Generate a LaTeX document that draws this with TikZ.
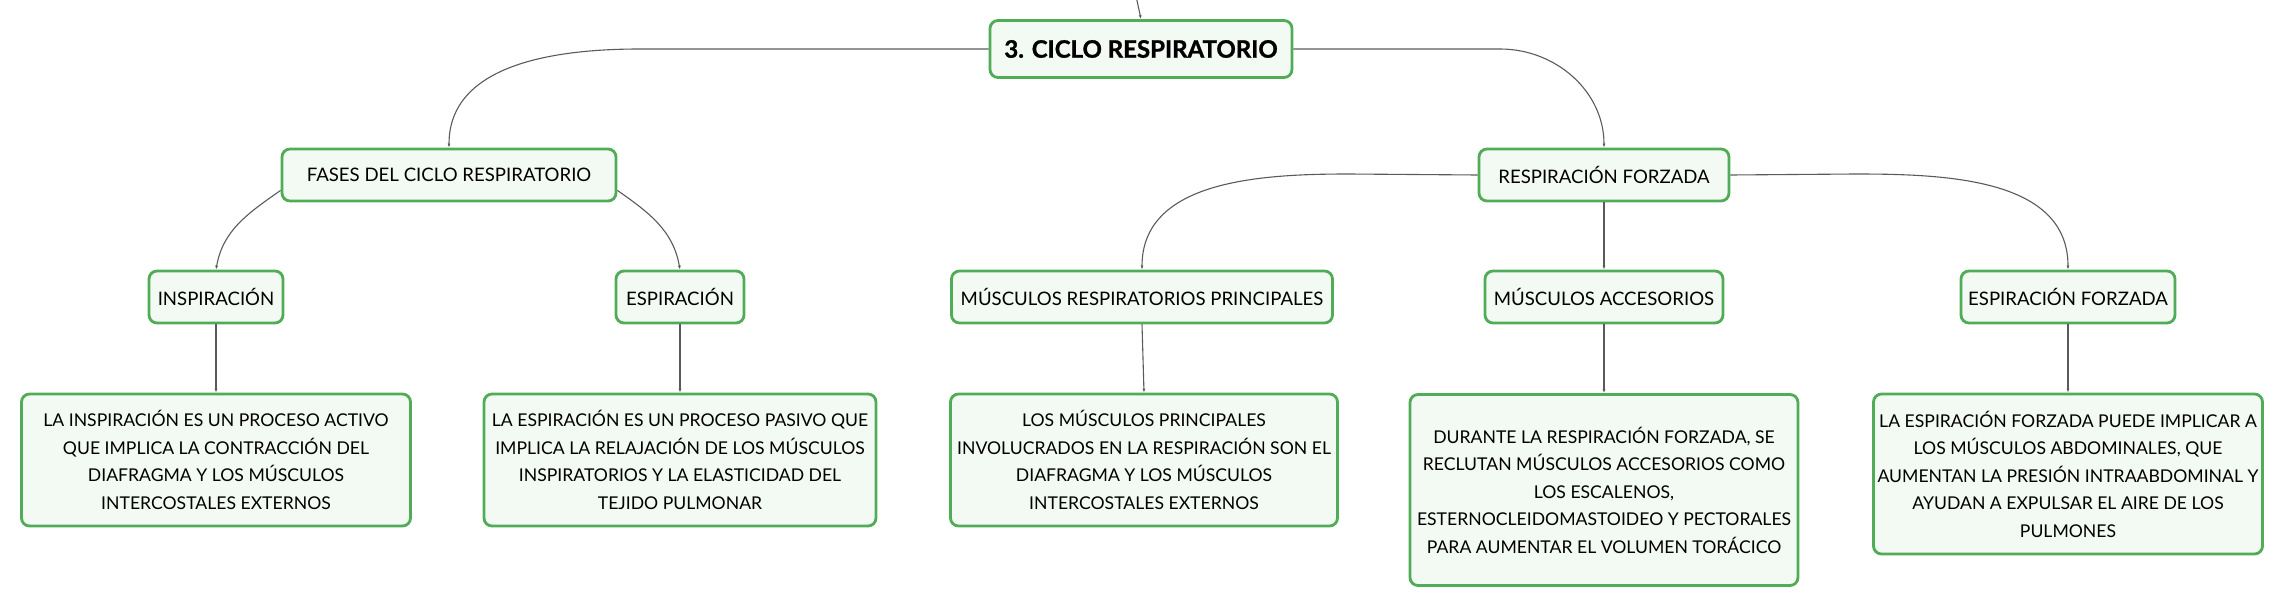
\documentclass[tikz,border=0pt]{standalone}
\usepackage{fontspec}
\setmainfont{Lato}
\newfontfamily\negra{Lato}[BoldFeatures={FakeBold=1.2}]
\usetikzlibrary{arrows.meta}
\definecolor{verde}{RGB}{80,172,86}
\definecolor{fondo}{RGB}{243,249,243}
\definecolor{linea}{RGB}{90,90,90}
\tikzset{
  caja/.style={draw=verde, fill=fondo, line width=2.8pt, rounded corners=8pt, align=center, inner sep=0pt},
  titulo/.style={caja, font=\fontsize{24}{28}\selectfont\negra\bfseries},
  rama/.style={caja, font=\fontsize{18.6}{22}\selectfont, minimum height=52},
  hoja/.style={caja, font=\fontsize{17.6}{27.5}\selectfont},
  enlace/.style={draw=linea, line width=1.1pt, -{Latex[length=4pt,width=3pt]}}
}
\begin{document}
\begin{tikzpicture}[x=1pt, y=-1pt]
    \useasboundingbox (0,0) rectangle (2284,605);
    % raíz
    \node[titulo, minimum width=302, minimum height=57] (raiz) at (1141,49) {3. CICLO RESPIRATORIO};
    \coordinate (arriba) at (1136,-4);
    \draw[enlace] (arriba) -- (raiz.north);
    % ramas
    \node[rama, minimum width=334] (fases) at (449,175) {FASES DEL CICLO RESPIRATORIO};
    \node[rama, minimum width=250] (forz) at (1604,175) {RESPIRACIÓN FORZADA};
    \draw[enlace] (raiz.west) -- (640,49) to[out=180,in=90] (fases.north);
    \draw[enlace] (raiz.east) -- (1500,49) to[out=0,in=90] (forz.north);
    % fases del ciclo
    \node[rama, minimum width=134] (insp) at (216,297) {INSPIRACIÓN};
    \node[rama, minimum width=128] (esp) at (680,297) {ESPIRACIÓN};
    \draw[enlace] (fases.south west) ++(0,-12) coordinate (f1) to[out=215,in=80] (insp.north);
    \draw[enlace] (fases.south east) ++(0,-12) coordinate (f2) to[out=-35,in=100] (esp.north);
    % respiración forzada
    \node[rama, minimum width=381] (princ) at (1142,297) {MÚSCULOS RESPIRATORIOS PRINCIPALES};
    \node[rama, minimum width=238] (acces) at (1604,297) {MÚSCULOS ACCESORIOS};
    \node[rama, minimum width=214] (espf) at (2068,297) {ESPIRACIÓN FORZADA};
    \draw[enlace] (forz.west) -- (1349,174) to[out=180,in=90] (princ.north);
    \draw[enlace] (forz.south) -- (acces.north);
    \draw[enlace] (forz.east) -- (1855,174) to[out=0,in=90] (espf.north);
    % textos
    \node[hoja, minimum width=389, minimum height=132] (t1) at (216,460)
      {LA INSPIRACIÓN ES UN PROCESO ACTIVO\\QUE IMPLICA LA CONTRACCIÓN DEL\\DIAFRAGMA Y LOS MÚSCULOS\\INTERCOSTALES EXTERNOS};
    \node[hoja, minimum width=392, minimum height=132] (t2) at (680,460)
      {LA ESPIRACIÓN ES UN PROCESO PASIVO QUE\\IMPLICA LA RELAJACIÓN DE LOS MÚSCULOS\\INSPIRATORIOS Y LA ELASTICIDAD DEL\\TEJIDO PULMONAR};
    \node[hoja, minimum width=387, minimum height=132] (t3) at (1144,460)
      {LOS MÚSCULOS PRINCIPALES\\INVOLUCRADOS EN LA RESPIRACIÓN SON EL\\DIAFRAGMA Y LOS MÚSCULOS\\INTERCOSTALES EXTERNOS};
    \node[hoja, minimum width=388, minimum height=191] (t4) at (1604,490)
      {DURANTE LA RESPIRACIÓN FORZADA, SE\\RECLUTAN MÚSCULOS ACCESORIOS COMO\\LOS ESCALENOS,\\ESTERNOCLEIDOMASTOIDEO Y PECTORALES\\PARA AUMENTAR EL VOLUMEN TORÁCICO};
    \node[hoja, minimum width=389, minimum height=160] (t5) at (2068,474)
      {LA ESPIRACIÓN FORZADA PUEDE IMPLICAR A\\LOS MÚSCULOS ABDOMINALES, QUE\\AUMENTAN LA PRESIÓN INTRAABDOMINAL Y\\AYUDAN A EXPULSAR EL AIRE DE LOS\\PULMONES};
    \draw[enlace] (insp.south) -- (t1.north);
    \draw[enlace] (esp.south) -- (t2.north);
    \draw[enlace] (princ.south) -- (t3.north);
    \draw[enlace] (acces.south) -- (t4.north);
    \draw[enlace] (espf.south) -- (t5.north);
  \end{tikzpicture}
\end{document}
